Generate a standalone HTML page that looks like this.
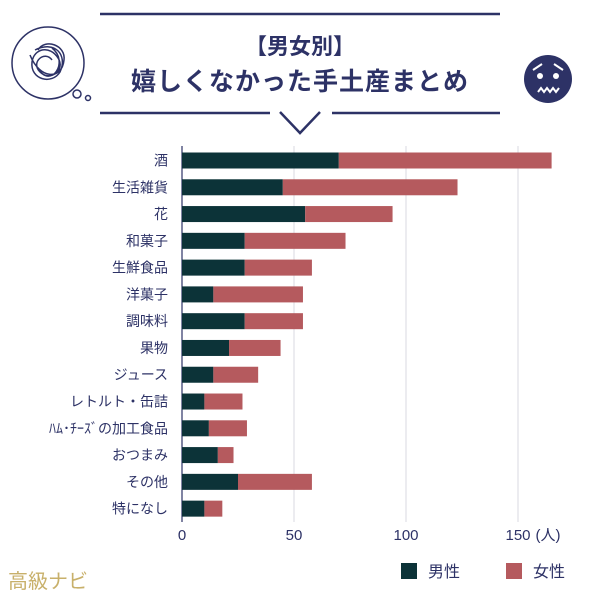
<!DOCTYPE html>
<html><head><meta charset="utf-8"><style>
body{margin:0;width:600px;height:600px;background:#fff;overflow:hidden;font-family:"Liberation Sans","Noto Sans CJK JP",sans-serif}
svg text{font-family:"Liberation Sans","Noto Sans CJK JP",sans-serif}
</style></head><body>
<svg id="c" width="600" height="600">
<g stroke="#2d3266" fill="none">
<line x1="100" y1="14" x2="500" y2="14" stroke-width="2.5"/>
<line x1="100" y1="113" x2="270" y2="113" stroke-width="2.5"/>
<line x1="332" y1="113" x2="500" y2="113" stroke-width="2.5"/>
<polyline points="280,112 300,133 320,112" stroke-width="2.5"/>
<g stroke-width="1.5">
<circle cx="48" cy="63" r="36"/>
<circle cx="77" cy="94" r="4"/><circle cx="88" cy="98" r="2.5"/>
<path d="M35,50 C55,40 68,55 60,72 C52,85 30,80 32,62 C34,48 50,45 58,58 C66,70 50,82 40,72 C30,62 45,50 52,60 M38,68 C50,90 70,62 52,48 M30,55 C40,80 62,80 64,60 C66,45 45,38 38,50"/>
</g>
<g>
<circle cx="548" cy="79" r="24" fill="#2d3266" stroke="none"/>
<circle cx="540" cy="76" r="3" fill="#fff" stroke="none"/><circle cx="556" cy="76" r="3" fill="#fff" stroke="none"/>
<path d="M533,70 L542,64 M563,70 L554,64" stroke="#fff" stroke-width="2"/>
<path d="M538,92 l3,-4 l3,4 l3,-4 l3,4 l3,-4 l3,4 l3,-4" stroke="#fff" stroke-width="2"/>
</g>
</g>
<text x="300" y="54" text-anchor="middle" font-size="22" font-weight="bold" fill="#2d3266">【男女別】</text>
<text x="300" y="90" text-anchor="middle" font-size="25" font-weight="bold" fill="#2d3266" letter-spacing="1">嬉しくなかった手土産まとめ</text>
<g id="grid"></g><g id="bars"></g><g id="labels"></g>
<text x="548" y="540" font-size="15" fill="#2d3266" text-anchor="middle">(人)</text>
<g>
<rect x="401" y="563" width="16" height="16" fill="#0c3338"/>
<text x="428" y="577" font-size="16" fill="#2d3266">男性</text>
<rect x="506" y="563" width="16" height="16" fill="#b55a5e"/>
<text x="533" y="577" font-size="16" fill="#2d3266">女性</text>
</g>
<text x="8" y="588" font-size="20" fill="#c8b06a" font-family="Liberation Serif,Noto Serif CJK SC,serif">高級ナビ</text>
</svg>
<script>
const categories=["酒","生活雑貨","花","和菓子","生鮮食品","洋菓子","調味料","果物","ジュース","レトルト・缶詰","ﾊﾑ･ﾁｰｽﾞの加工食品","おつまみ","その他","特になし"];
const male=[70,45,55,28,28,14,28,21,14,10,12,16,25,10];
const female=[95,78,39,45,30,40,26,23,20,17,17,7,33,8];
const ticks=[0,50,100,150];
const NS="http://www.w3.org/2000/svg";
const x=v=>182+v*2.24;
const y=i=>160.5+i*26.78;
function mk(tag,attrs,parent){const e=document.createElementNS(NS,tag);for(const k in attrs)e.setAttribute(k,attrs[k]);document.getElementById(parent).appendChild(e);return e;}
ticks.forEach(t=>{
 const l=mk('line',{x1:x(t),x2:x(t),y1:146,y2:522,stroke:t===0?'#2d3266':'#d8d8e0','stroke-width':t===0?1.2:1},'grid');
 
 
 const tx=mk('text',{x:x(t),y:540,'text-anchor':'middle','font-size':15,fill:'#2d3266'},'grid');
 tx.textContent=t;
 
 
});
categories.forEach((c,i)=>{
 const m=mk('rect',{x:x(0),y:y(i)-8,width:x(male[i])-x(0),height:16,fill:'#0c3338'},'bars');
 
 
 const f=mk('rect',{x:x(male[i]),y:y(i)-8,width:x(male[i]+female[i])-x(male[i]),height:16,fill:'#b55a5e'},'bars');
 
 
 const t=mk('text',{x:168,y:y(i)+5,'text-anchor':'end','font-size':14,fill:'#2d3266'},'labels');
 t.textContent=c;
 
 
});
</script>
</body></html>
